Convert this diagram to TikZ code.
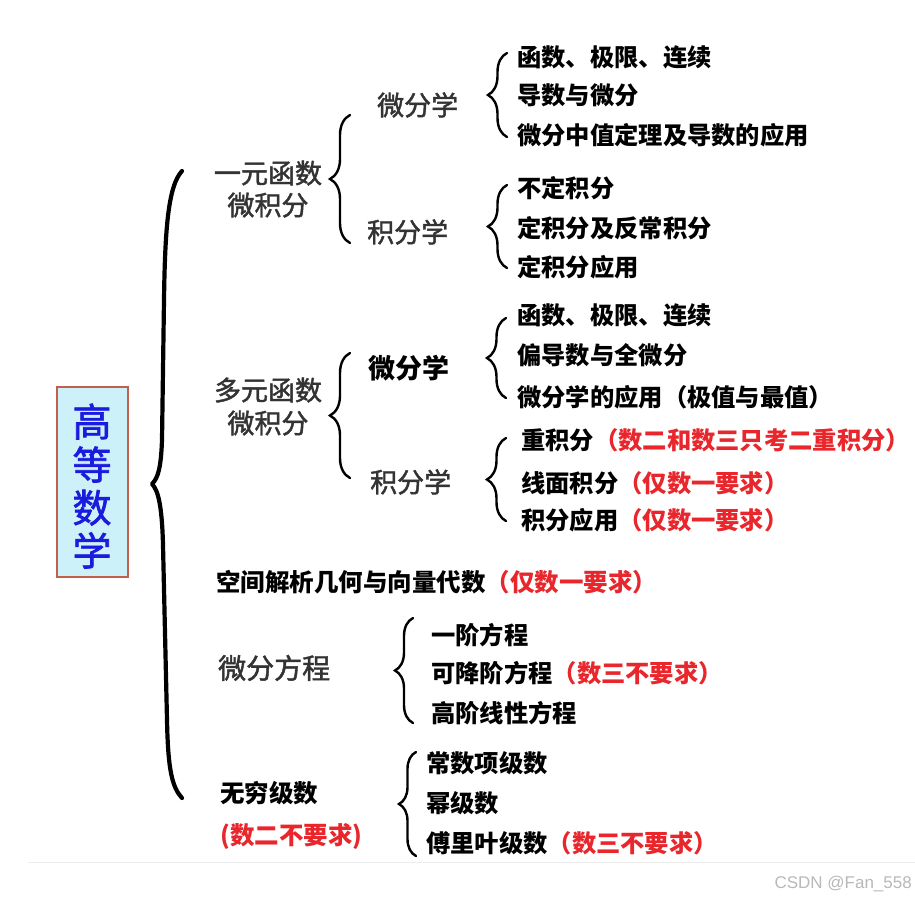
\documentclass[tikz,border=0pt]{standalone}
\usepackage{fontspec}
\usetikzlibrary{decorations.pathreplacing}
\newfontfamily\cjk{Noto Sans CJK SC}
\newfontfamily\cjkmed[FakeBold=1.6]{Noto Sans CJK SC}
\newfontfamily\wmfont{Liberation Sans}
\definecolor{txtgray}{HTML}{333333}
\definecolor{redt}{HTML}{E8262B}
\definecolor{titleblue}{HTML}{1B1BE0}
\definecolor{boxfill}{HTML}{CDF1F8}
\definecolor{boxline}{HTML}{C0604D}
\tikzset{
  lvl/.style={anchor=west, inner sep=0pt, text height=23.8pt, text depth=3.2pt,
    font=\cjkmed\fontsize{27}{32}\selectfont, text=txtgray},
  lvlb/.style={lvl, font=\cjk\bfseries\fontsize{27}{32}\selectfont, text=black},
  item/.style={anchor=west, inner sep=0pt, text height=21.4pt, text depth=2.9pt,
    font=\cjk\bfseries\fontsize{24.3}{29}\selectfont, text=black},
  itemb/.style={item, text height=21.6pt, text depth=2.9pt,
    font=\cjk\bfseries\fontsize{24.5}{29}\selectfont},
  brc/.style={decorate, decoration={brace, amplitude=#1}, line width=2.4pt, line cap=round},
}
\newcommand{\rnote}[1]{\textcolor{redt}{#1}}
\begin{document}
\begin{tikzpicture}[x=1pt,y=-1pt]
\useasboundingbox (0,0) rectangle (915,900);
\fill[white] (0,0) rectangle (915,900);
\draw[gray!15, line width=0.8pt] (28,862) -- (915,862);

% title box
\node[draw=boxline, fill=boxfill, line width=1.8pt, minimum width=71, minimum height=190,
  inner sep=0pt] (title) at (92.5,482) {};
\node[inner sep=0pt, align=center, text=titleblue,
  font=\cjkmed\fontsize{39}{43}\selectfont] (titletxt) at (92,486) {高\\等\\数\\学};

% big brace
\draw[line width=4.2pt, line cap=round, line join=round]
  (182,171) .. controls (168,186) and (165,230) .. (164,300)
  -- (162,440) .. controls (161,468) and (158,478) .. (152,484)
  .. controls (158,490) and (162,505) .. (163,545)
  -- (167,720) .. controls (168,770) and (172,787) .. (182,798);

% one-variable calculus
\node[lvl, anchor=center] (yy1) at (268,173) {一元函数};
\node[lvl, anchor=center] (yy2) at (268,205) {微积分};
\coordinate (b1s) at (350,243); \coordinate (b1e) at (350,115);
\draw[brc=20pt] (b1s) -- (b1e);
\node[lvl] (wf1) at (377,105) {微分学};
\node[lvl] (jf1) at (367,232) {积分学};
\coordinate (b3s) at (507,137); \coordinate (b3e) at (507,53);
\draw[brc=19pt] (b3s) -- (b3e);
\node[item] (a1) at (517,57) {函数、极限、连续};
\node[item] (a2) at (517,95) {导数与微分};
\node[item] (a3) at (517,135) {微分中值定理及导数的应用};
\coordinate (b4s) at (507,268); \coordinate (b4e) at (507,185);
\draw[brc=19pt] (b4s) -- (b4e);
\node[item] (a4) at (517,188) {不定积分};
\node[item] (a5) at (517,228) {定积分及反常积分};
\node[item] (a6) at (517,267) {定积分应用};

% multi-variable calculus
\node[lvl, anchor=center] (dy1) at (268,390) {多元函数};
\node[lvl, anchor=center] (dy2) at (268,423) {微积分};
\coordinate (b2s) at (350,478); \coordinate (b2e) at (350,353);
\draw[brc=20pt] (b2s) -- (b2e);
\node[lvlb] (wf2) at (368,368) {微分学};
\node[lvl] (jf2) at (370,482) {积分学};
\coordinate (b5s) at (506,398); \coordinate (b5e) at (506,318);
\draw[brc=19pt] (b5s) -- (b5e);
\node[item] (c1) at (517,315) {函数、极限、连续};
\node[item] (c2) at (517,355) {偏导数与全微分};
\node[item] (c3) at (517,397) {微分学的应用（极值与最值）};
\coordinate (b6s) at (506,521); \coordinate (b6e) at (506,438);
\draw[brc=19pt] (b6s) -- (b6e);
\node[item] (c4) at (521,440) {重积分\rnote{（数二和数三只考二重积分）}};
\node[item] (c5) at (521,483) {线面积分\rnote{（仅数一要求）}};
\node[item] (c6) at (521,520) {积分应用\rnote{（仅数一要求）}};

% space analytic geometry
\node[itemb] (kj) at (216,582) {空间解析几何与向量代数\rnote{（仅数一要求）}};

% differential equations
\node[lvl, text height=24.6pt, text depth=3.4pt, font=\cjkmed\fontsize{28}{32}\selectfont] (wffc) at (218,668) {微分方程};
\coordinate (b7s) at (413,723); \coordinate (b7e) at (413,618);
\draw[brc=18pt] (b7s) -- (b7e);
\node[item] (d1) at (431,635) {一阶方程};
\node[item] (d2) at (431,673) {可降阶方程\rnote{（数三不要求）}};
\node[item] (d3) at (431,713) {高阶线性方程};

% infinite series
\node[itemb] (wq) at (220,793) {无穷级数};
\node[itemb, text=redt] (wqn) at (220,835) {(数二不要求)};
\coordinate (b8s) at (416,856); \coordinate (b8e) at (416,752);
\draw[brc=17pt] (b8s) -- (b8e);
\node[item] (e1) at (426,763) {常数项级数};
\node[item] (e2) at (426,803) {幂级数};
\node[item] (e3) at (426,843) {傅里叶级数\rnote{（数三不要求）}};

% watermark
\node[anchor=east, inner sep=0pt, font=\wmfont\fontsize{17}{20}\selectfont, text=gray!55] (wm) at (912,884) {CSDN @Fan\_558};
\end{tikzpicture}
\end{document}
